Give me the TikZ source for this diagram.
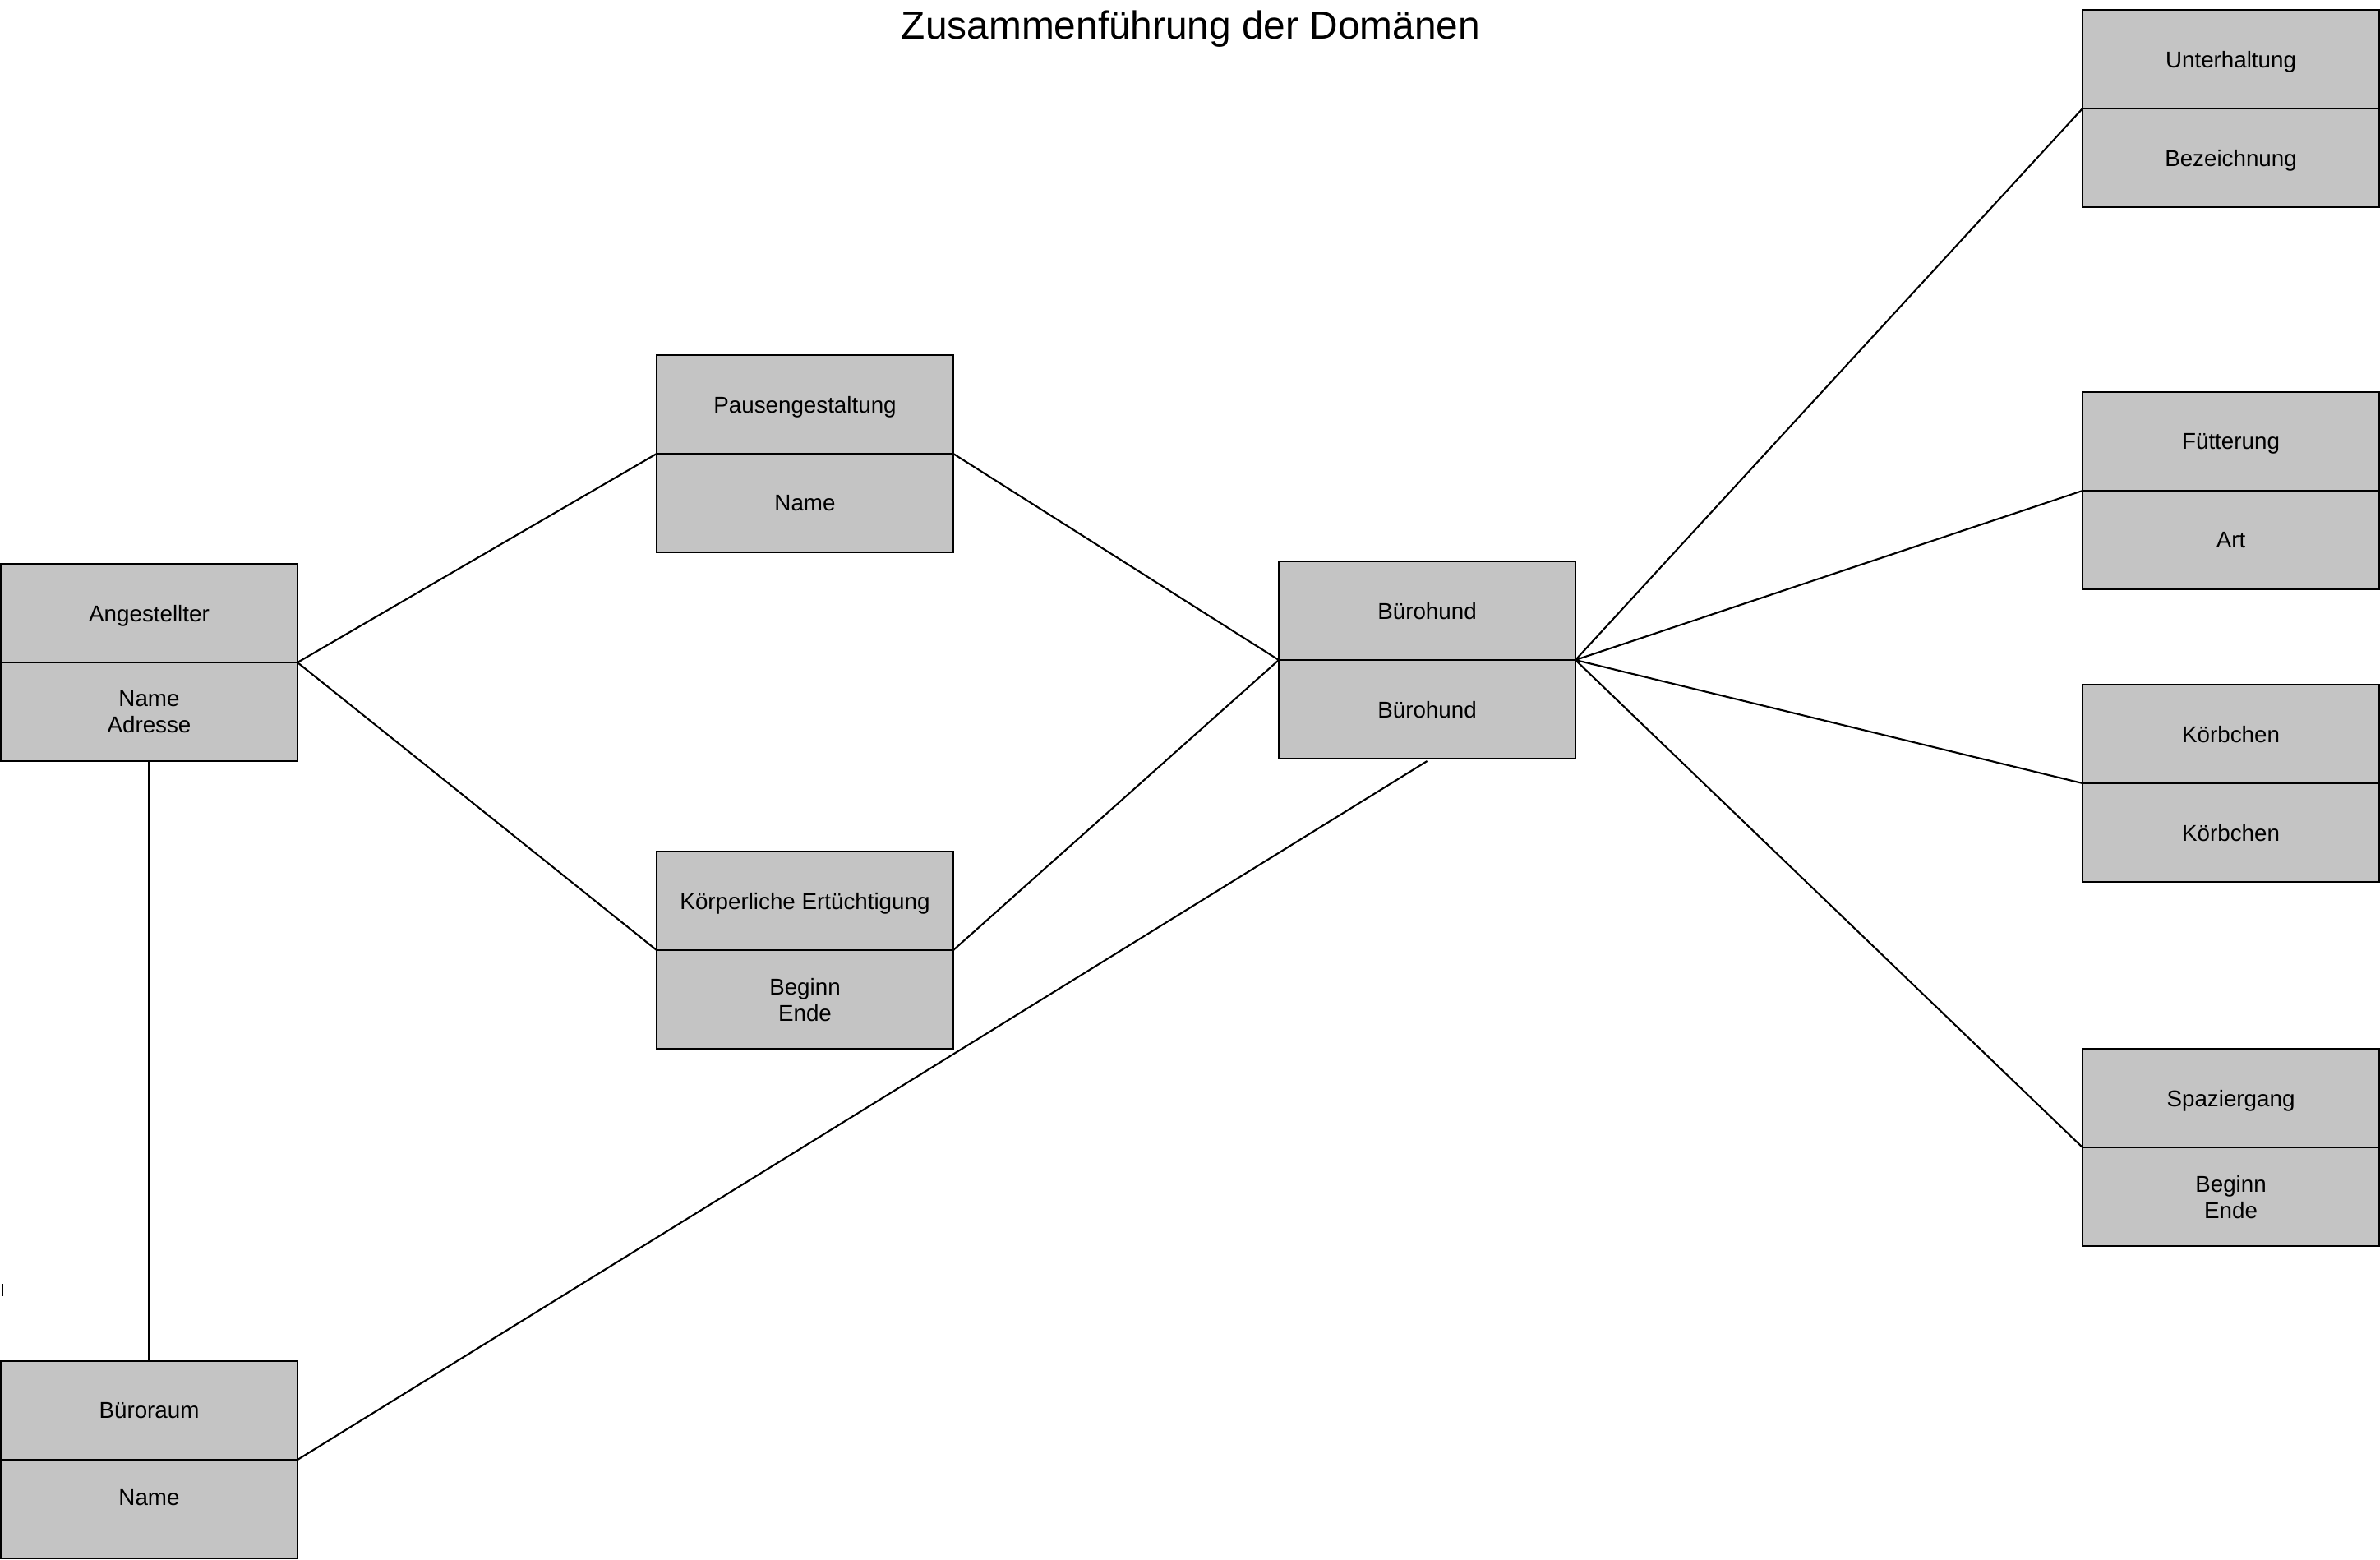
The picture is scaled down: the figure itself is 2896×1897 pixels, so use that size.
\documentclass[tikz,border=0pt]{standalone}
\usepackage{fontspec}
\setmainfont{Liberation Sans}
\usepackage{xcolor}
\usepackage{tikz}
\usetikzlibrary{positioning}
\definecolor{boxGray}{RGB}{196,196,196}

\begin{document}
\begin{tikzpicture}[
    every node/.style={font=\fontsize{7.9}{9.1}\selectfont},
    entity/.style={rectangle, draw=black, fill=boxGray, line width=0.6pt,
        minimum width=36.1mm, minimum height=12mm, align=center, inner sep=0pt, outer sep=0pt,
        text depth=0pt},
    link/.style={line width=0.6pt, black},
    x=0.1mm, y=-0.1mm,
    ]
    \useasboundingbox (0,0) rectangle (2896,1897);
    % Title
    \node[font=\fontsize{13.6}{16}\selectfont, anchor=base] (title) at (1449,47) {Zusammenführung der Domänen};
    % Left column
    \node[entity] (ang) at (181.5,746) {Angestellter};
    \node[entity, below=0pt of ang] (angA) {Name\\Adresse};
    \node[entity] (raum) at (181.5,1716) {Büroraum};
    \node[entity, below=0pt of raum, text depth=8pt] (raumA) {Name};
    % Middle column
    \node[entity] (pause) at (979.5,492) {Pausengestaltung};
    \node[entity, below=0pt of pause] (pauseA) {Name};
    \node[entity] (koerp) at (979.5,1096) {Körperliche Ertüchtigung};
    \node[entity, below=0pt of koerp] (koerpA) {Beginn\\Ende};
    \node[entity] (hund) at (1736.5,743) {Bürohund};
    \node[entity, below=0pt of hund] (hundA) {Bürohund};
    % Right column
    \node[entity] (unter) at (2714.5,72) {Unterhaltung};
    \node[entity, below=0pt of unter] (unterA) {Bezeichnung};
    \node[entity] (fuett) at (2714.5,537) {Fütterung};
    \node[entity, below=0pt of fuett] (fuettA) {Art};
    \node[entity] (korb) at (2714.5,893) {Körbchen};
    \node[entity, below=0pt of korb] (korbA) {Körbchen};
    \node[entity] (spazier) at (2714.5,1336) {Spaziergang};
    \node[entity, below=0pt of spazier] (spazierA) {Beginn\\Ende};
    % Links
    \draw[link] (ang.south east) -- (pause.south west);
    \draw[link] (ang.south east) -- (koerp.south west);
    \draw[link] (pause.south east) -- (hund.south west);
    \draw[link] (koerp.south east) -- (hund.south west);
    \draw[link] (angA.south) -- (raum.north);
    \draw[link] ([yshift=-1mm*0.3]hundA.south) -- (raum.south east);
    \draw[link] (hund.south east) -- (unter.south west);
    \draw[link] (hund.south east) -- (fuett.south west);
    \draw[link] (hund.south east) -- (korb.south west);
    \draw[link] (hund.south east) -- (spazier.south west);
    % stray tick
    \coordinate (tick) at (3,1562);
    \draw[link] (tick) -- ++(0,15);
\end{tikzpicture}
\end{document}
